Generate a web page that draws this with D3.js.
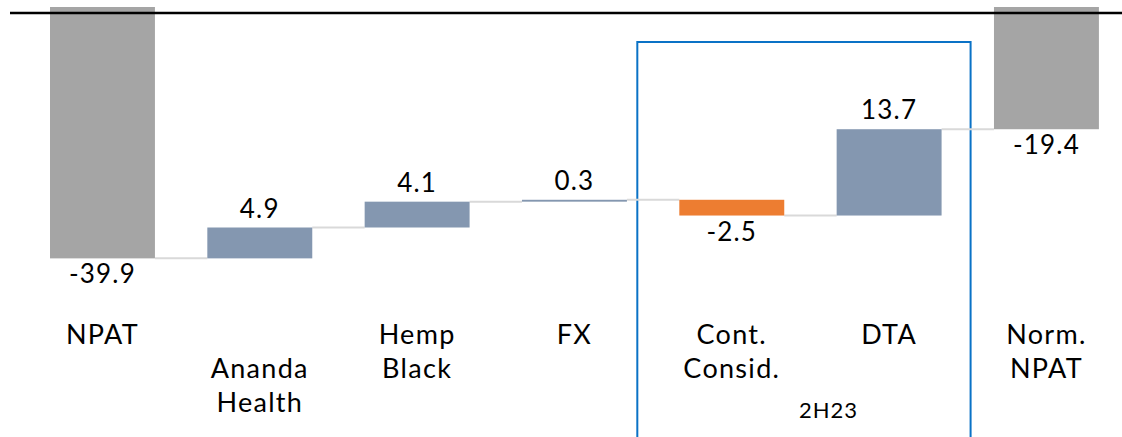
<!DOCTYPE html>
<html>
<head>
<meta charset="utf-8">
<script src="https://cdn.jsdelivr.net/npm/d3@7"></script>
<style>
  html, body { margin: 0; padding: 0; background: #fff; }
  svg text { font-family: Lato, "Noto Sans", sans-serif; fill: #000; }
</style>
</head>
<body>
<div id="chart"></div>
<script>
'use strict';

// categories (split into label lines), values, bar kinds
const categories = [["NPAT"], ["Ananda", "Health"], ["Hemp", "Black"], ["FX"], ["Cont.", "Consid."], ["DTA"], ["Norm.", "NPAT"]];
const values = [-39.9, 4.9, 4.1, 0.3, -2.5, 13.7, -19.4];
const kinds = ["total", "delta", "delta", "delta", "delta", "delta", "total"];
const labelRowStart = [0, 1, 0, 0, 0, 0, 0];
const groupLabel = "2H23";
const groupMembers = [4, 5];

const w = 1122, h = 437;
const colors = { total: "#a5a5a5", up: "#8497b0", down: "#ed7d31" };

// running totals -> bar extents
let run = 0;
const bars = values.map((v, i) => {
  let y0, y1;
  if (kinds[i] === "total") { y0 = 0; y1 = v; run = v; }
  else { y0 = run; y1 = run + v; run = y1; }
  return {
    key: i, lines: categories[i], value: v, kind: kinds[i],
    start: y0, end: y1, lo: Math.min(y0, y1), hi: Math.max(y0, y1)
  };
});

const x = d3.scaleBand()
  .domain(bars.map(d => d.key))
  .range([23.8, 23.8 + 7 * 157.33])
  .paddingInner(0.333)
  .paddingOuter(0.1665);

const y = d3.scaleLinear().domain([0, -40]).range([7, 259]);
const bw = x.bandwidth();

const svg = d3.select("#chart").append("svg")
  .attr("width", w).attr("height", h);

// group box
const gx0 = x(groupMembers[0]) - 42;
const gx1 = x(groupMembers[groupMembers.length - 1]) + bw + 29;
svg.append("rect")
  .attr("x", gx0).attr("y", 42)
  .attr("width", gx1 - gx0).attr("height", h)
  .attr("fill", "none").attr("stroke", "#0a72c6").attr("stroke-width", 2);

// connectors
const links = bars.slice(0, -1).map((d, i) => ({ from: d, to: bars[i + 1], level: d.end }));
svg.selectAll("line.conn").data(links).enter().append("line")
  .attr("class", "conn")
  .attr("x1", d => x(d.from.key) + bw)
  .attr("x2", d => x(d.to.key))
  .attr("y1", d => y(d.level))
  .attr("y2", d => y(d.level))
  .attr("stroke", "#d9d9d9").attr("stroke-width", 2);

// bars
svg.selectAll("rect.bar").data(bars).enter().append("rect")
  .attr("class", "bar")
  .attr("x", d => x(d.key))
  .attr("width", bw)
  .attr("y", d => y(d.hi))
  .attr("height", d => Math.max(1.5, y(d.lo) - y(d.hi)))
  .attr("fill", d => d.kind === "total" ? colors.total : (d.value >= 0 ? colors.up : colors.down));

// zero line
svg.append("line")
  .attr("x1", 10).attr("x2", w)
  .attr("y1", y(0) + 6).attr("y2", y(0) + 6)
  .attr("stroke", "#000").attr("stroke-width", 2.4);

// value labels
svg.selectAll("text.val").data(bars).enter().append("text")
  .attr("class", "val")
  .attr("x", d => x(d.key) + bw / 2)
  .attr("y", d => d.value >= 0 ? y(d.hi) - 10 : y(d.lo) + 25)
  .attr("text-anchor", "middle")
  .style("font-size", "26px")
  .style("letter-spacing", "1.2px")
  .text(d => d.value.toFixed(1));

// category labels
const cat = svg.selectAll("text.cat").data(bars).enter().append("text")
  .attr("class", "cat")
  .attr("text-anchor", "middle")
  .style("font-size", "27px")
  .style("letter-spacing", "1.3px");
cat.selectAll("tspan").data(d => d.lines.map((t, j) => ({ t, row: j + labelRowStart[d.key], cx: x(d.key) + bw / 2 })))
  .enter().append("tspan")
  .attr("x", d => d.cx)
  .attr("y", d => 344 + d.row * 34)
  .text(d => d.t);

// group label
svg.append("text")
  .attr("x", (x(groupMembers[0]) + x(groupMembers[1]) + bw) / 2 + 18)
  .attr("y", 418)
  .attr("text-anchor", "middle")
  .style("font-size", "22px")
  .style("letter-spacing", "1px")
  .text(groupLabel);
</script>
</body>
</html>
